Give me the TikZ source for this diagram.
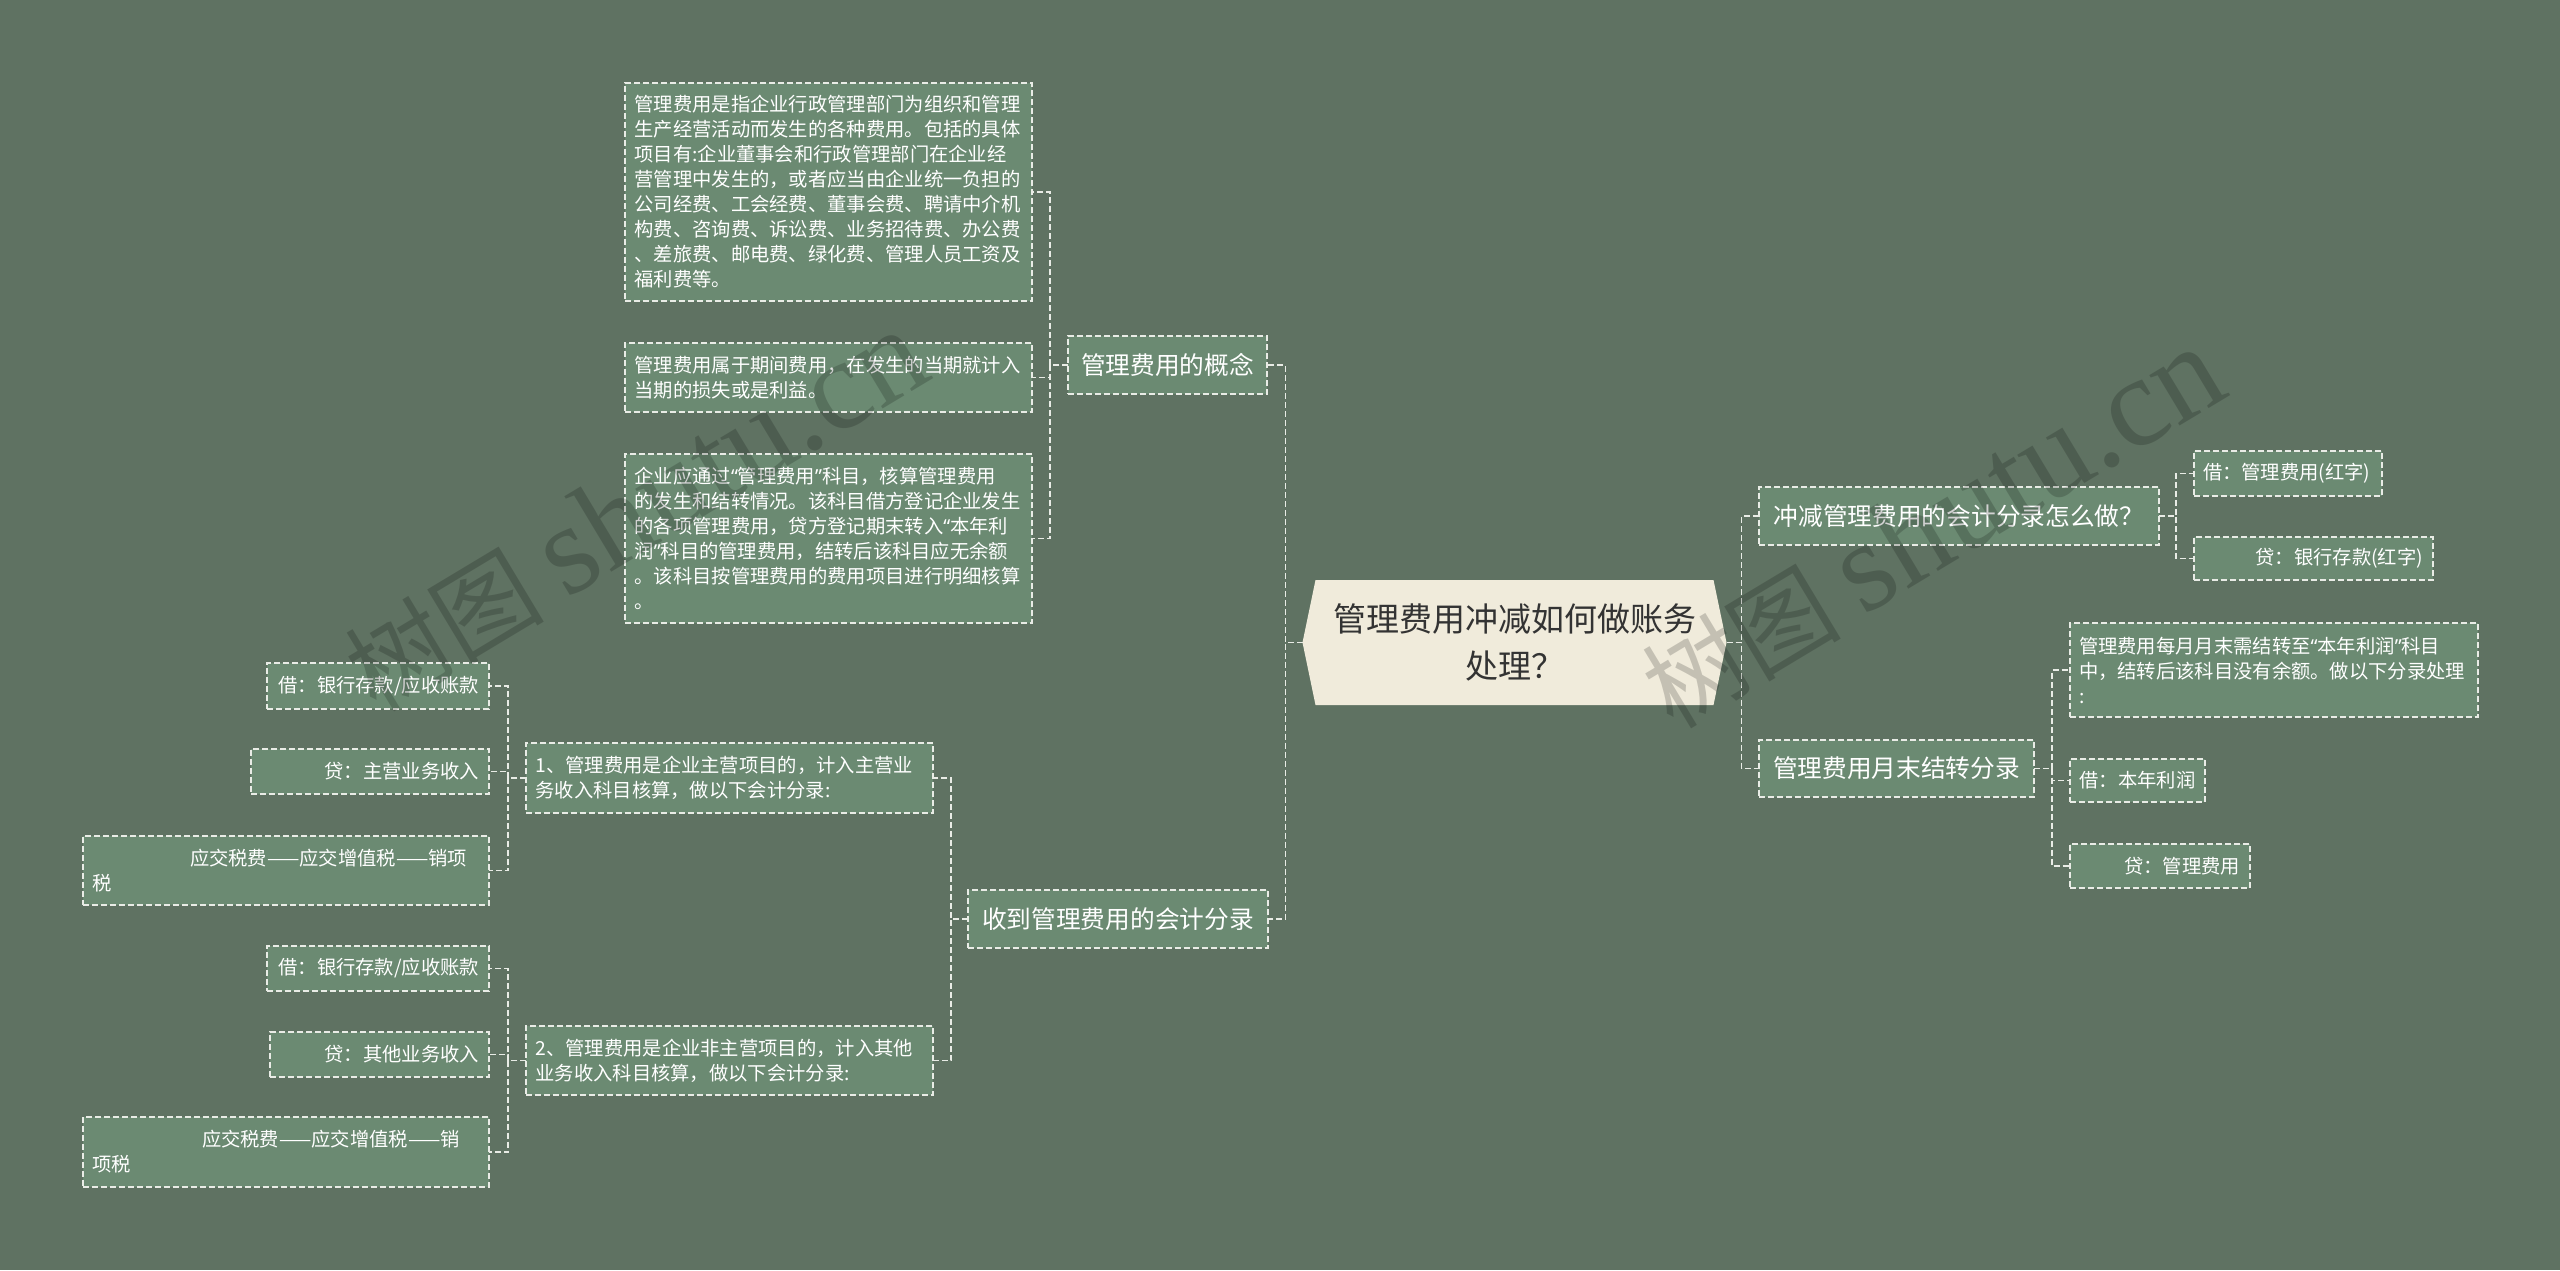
\documentclass[tikz,border=0pt]{standalone}
\usepackage{fontspec}
\setmainfont{Noto Sans CJK SC}
\newfontfamily\wmlatin{Liberation Serif}
\newfontfamily\myqfont{Noto Sans}
\newcommand\myql{{\myqfont“}}
\newcommand\myqr{{\myqfont”}}
\usetikzlibrary{backgrounds}
\definecolor{bgc}{HTML}{5F7262}
\definecolor{nodefill}{HTML}{6B8A72}
\definecolor{rootfill}{HTML}{F0EBDB}
\definecolor{linec}{HTML}{E9ECE6}
\definecolor{roottext}{HTML}{333333}
\tikzset{
  box/.style={draw=linec, fill=nodefill, text=white, dash pattern=on 3pt off 1.5pt, line width=0.7pt, inner sep=0pt, outer sep=0pt},
  lvl/.style={box, font=\fontsize{12.35pt}{15pt}\selectfont, align=center},
  leaf/.style={box, font=\fontsize{9.65pt}{12.5pt}\selectfont},
  conn/.style={draw=linec, line width=0.7pt, dash pattern=on 3pt off 1.5pt},
  rootn/.style={inner sep=0pt, outer sep=0pt, text=roottext, font=\fontsize{16.5pt}{23.5pt}\selectfont, align=center, minimum width=199pt, minimum height=62.5pt},
  wm/.style={text=black, text opacity=0.18, font=\fontsize{50pt}{50pt}\selectfont, inner sep=0pt}
}
\begin{document}
\begin{tikzpicture}[x=0.5pt,y=-0.5pt]
\useasboundingbox (0,0) rectangle (2560,1270);
\begin{pgfonlayer}{background}
\fill[bgc] (0,0) rectangle (2560,1270);
\end{pgfonlayer}

% root
\node[rootn] (root) at (1514.5,642.5) {管理费用冲减如何做账务\\处理？};
\begin{pgfonlayer}{background}
\fill[rootfill] (root.north west) -- (root.north east) -- ([xshift=6.5pt]root.east) -- (root.south east) -- (root.south west) -- ([xshift=-6.5pt]root.west) -- cycle;
\end{pgfonlayer}

% level 1
\node[lvl, minimum width=99.5pt, minimum height=29pt] (concept) at (1167.5,365) {管理费用的概念};
\node[lvl, minimum width=150pt, minimum height=29pt] (receive) at (1118,919) {收到管理费用的会计分录};
\node[lvl, minimum width=200pt, minimum height=29pt] (offset) at (1959,516) {冲减管理费用的会计分录怎么做？};
\node[lvl, minimum width=137.5pt, minimum height=28.5pt] (monthend) at (1896.5,768.5) {管理费用月末结转分录};

% concept leaves
\node[leaf, minimum width=203.5pt, minimum height=109pt, text width=194pt, align=left] (c1) at (828.5,192) {管理费用是指企业行政管理部门为组织和管理\\生产经营活动而发生的各种费用。包括的具体\\项目有:企业董事会和行政管理部门在企业经\\营管理中发生的，或者应当由企业统一负担的\\公司经费、工会经费、董事会费、聘请中介机\\构费、咨询费、诉讼费、业务招待费、办公费\\、差旅费、邮电费、绿化费、管理人员工资及\\福利费等。};
\node[leaf, minimum width=203.5pt, minimum height=34.5pt, text width=194pt, align=left] (c2) at (828.5,377.5) {管理费用属于期间费用，在发生的当期就计入\\当期的损失或是利益。};
\node[leaf, minimum width=203.5pt, minimum height=84.5pt, text width=194pt, align=left] (c3) at (828.5,538.5) {企业应通过\myql 管理费用\myqr 科目，核算管理费用\\的发生和结转情况。该科目借方登记企业发生\\的各项管理费用，贷方登记期末转入\myql 本年利\\润\myqr 科目的管理费用，结转后该科目应无余额\\。该科目按管理费用的费用项目进行明细核算\\。};

% receive subtree
\node[leaf, minimum width=203.5pt, minimum height=35pt, text width=194pt, align=left] (s1) at (729.5,778) {1、管理费用是企业主营项目的，计入主营业\\务收入科目核算，做以下会计分录:};
\node[leaf, minimum width=203.5pt, minimum height=34.5pt, text width=194pt, align=left] (s2) at (729.5,1060.5) {2、管理费用是企业非主营项目的，计入其他\\业务收入科目核算，做以下会计分录:};

\node[leaf, minimum width=111pt, minimum height=23pt, text width=101pt, align=right] (n1a) at (378,686) {借：银行存款/应收账款};
\node[leaf, minimum width=119pt, minimum height=22.5pt, text width=109pt, align=right] (n1b) at (370,771.5) {贷：主营业务收入};
\node[leaf, minimum width=203pt, minimum height=34.5pt, text width=194pt, align=left] (n1c) at (286,870.5) {\hspace*{49pt}应交税费——应交增值税——销项\\税};

\node[leaf, minimum width=111pt, minimum height=22.5pt, text width=101pt, align=right] (n2a) at (378,968.5) {借：银行存款/应收账款};
\node[leaf, minimum width=109.5pt, minimum height=22.5pt, text width=99.5pt, align=right] (n2b) at (379.5,1054.5) {贷：其他业务收入};
\node[leaf, minimum width=203pt, minimum height=35pt, text width=194pt, align=left] (n2c) at (286,1152) {\hspace*{55pt}应交税费——应交增值税——销\\项税};

% offset subtree
\node[leaf, minimum width=94pt, minimum height=22.5pt, text width=85pt, align=left] (o1) at (2288,473.5) {借：管理费用(红字)};
\node[leaf, minimum width=119.5pt, minimum height=21.5pt, text width=109.5pt, align=right] (o2) at (2313.5,558.5) {贷：银行存款(红字)};

% month end subtree
\node[leaf, minimum width=204pt, minimum height=47pt, text width=195pt, align=left] (m1) at (2274,670) {管理费用每月月末需结转至\myql 本年利润\myqr 科目\\中，结转后该科目没有余额。做以下分录处理\\:};
\node[leaf, minimum width=67.5pt, minimum height=21.5pt, text width=58pt, align=left] (m2) at (2137.5,780.5) {借：本年利润};
\node[leaf, minimum width=90pt, minimum height=22pt, text width=80pt, align=right] (m3) at (2160,866) {贷：管理费用};

% connectors
\draw[conn] ([xshift=-6.5pt]root.west) -- ++(-17,0) |- (concept.east);
\draw[conn] ([xshift=-6.5pt]root.west) -- ++(-17,0) |- (receive.east);
\draw[conn] ([xshift=6.5pt]root.east) -- ++(15,0) |- (offset.west);
\draw[conn] ([xshift=6.5pt]root.east) -- ++(15,0) |- (monthend.west);
\foreach \c in {c1,c2,c3} \draw[conn] (concept.west) -- ++(-18,0) |- (\c.east);
\foreach \c in {s1,s2} \draw[conn] (receive.west) -- ++(-17,0) |- (\c.east);
\foreach \c in {n1a,n1b,n1c} \draw[conn] (s1.west) -- ++(-18,0) |- (\c.east);
\foreach \c in {n2a,n2b,n2c} \draw[conn] (s2.west) -- ++(-18,0) |- (\c.east);
\foreach \c in {o1,o2} \draw[conn] (offset.east) -- ++(17,0) |- (\c.west);
\foreach \c in {m1,m2,m3} \draw[conn] (monthend.east) -- ++(18,0) |- (\c.west);

% watermarks
\node[wm, rotate=31] (wm1) at (635,511) {树图 {\wmlatin\fontsize{64pt}{64pt}\selectfont shutu.cn}};
\node[wm, rotate=31] (wm2) at (1932,528) {树图 {\wmlatin\fontsize{64pt}{64pt}\selectfont shutu.cn}};
\end{tikzpicture}
\end{document}
